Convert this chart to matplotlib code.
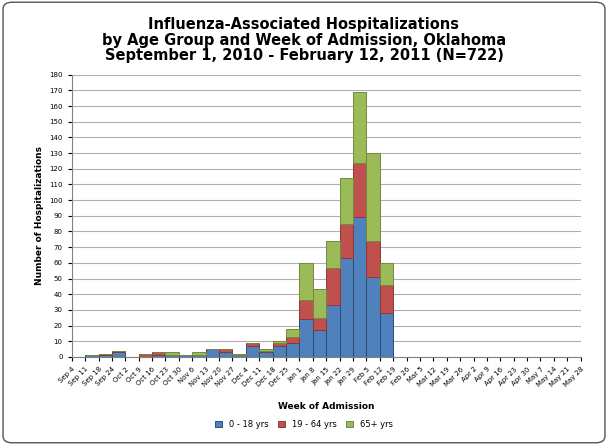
import matplotlib
matplotlib.use("Agg")
import matplotlib.pyplot as plt
import numpy as np
from matplotlib.patches import FancyBboxPatch

weeks = ["Sep 4", "Sep 11", "Sep 18", "Sep 24", "Oct 2", "Oct 9", "Oct 16", "Oct 23", "Oct 30",
         "Nov 6", "Nov 13", "Nov 20", "Nov 27", "Dec 4", "Dec 11", "Dec 18", "Dec 25",
         "Jan 1", "Jan 8", "Jan 15", "Jan 22", "Jan 29", "Feb 5", "Feb 12", "Feb 19", "Feb 26",
         "Mar 5", "Mar 12", "Mar 19", "Mar 26", "Apr 2", "Apr 9", "Apr 16", "Apr 23", "Apr 30",
         "May 7", "May 14", "May 21", "May 28"]

# counts per week slot (slot k spans tick k to k+1)
kids   = [0, 1, 1, 3, 0, 0, 1, 1, 1, 1, 5, 3, 1, 7, 3, 7, 9, 24, 17, 33, 63, 89, 51, 28]
adults = [0, 0, 1, 1, 0, 2, 2, 0, 0, 0, 0, 2, 0, 2, 1, 2, 4, 12, 8, 24, 22, 35, 23, 18]
senior = [0, 0, 0, 0, 0, 0, 0, 2, 0, 2, 0, 0, 1, 0, 1, 1, 5, 24, 18, 17, 29, 45, 56, 14]

kids, adults, senior = map(np.array, (kids, adults, senior))
x = np.arange(len(kids)) + 0.5

fig = plt.figure(figsize=(6.08, 4.45), dpi=100)
fig.patches.append(FancyBboxPatch((0.005, 0.005), 0.99, 0.99, boxstyle="round,pad=0,rounding_size=0.015",
                                  transform=fig.transFigure, fill=False, ec="#555555", lw=1))
ax = fig.add_axes([0.118, 0.198, 0.837, 0.634])

ax.bar(x, kids, width=1.0, color="#4f81bd", edgecolor="#2c4d75", lw=0.7, label="0 - 18 yrs")
ax.bar(x, adults, bottom=kids, width=1.0, color="#c0504d", edgecolor="#8c3836", lw=0.7,
       label="19 - 64 yrs")
ax.bar(x, senior, bottom=kids + adults, width=1.0, color="#9bbb59", edgecolor="#71893f", lw=0.7,
       label="65+ yrs")

ax.set_xlim(0, len(weeks) - 1)
ax.set_ylim(0, 180)
ax.set_yticks(range(0, 181, 10))
ax.yaxis.grid(True, color="#b0b0b0", lw=0.8)
ax.set_axisbelow(True)
ax.set_xticks(range(len(weeks)))
ax.set_xticklabels(weeks, rotation=45, ha="right", rotation_mode="anchor", fontsize=5)
ax.tick_params(axis="y", labelsize=5, length=3)
ax.tick_params(axis="x", length=3)
for s in ["top", "right"]:
    ax.spines[s].set_visible(False)
ax.spines["left"].set_color("#808080")
ax.spines["bottom"].set_color("#808080")

ax.set_ylabel("Number of Hospitalizations", fontsize=6.5, fontweight="bold")
ax.set_xlabel("Week of Admission", fontsize=6.5, fontweight="bold", labelpad=10)
fig.text(0.5, 0.91, "Influenza-Associated Hospitalizations\nby Age Group and Week of Admission, Oklahoma\n"
         "September 1, 2010 - February 12, 2011 (N=722)",
         ha="center", va="center", fontsize=10.5, fontweight="bold", linespacing=1.05)
fig.legend(loc="lower center", bbox_to_anchor=(0.5, 0.02), ncol=3, frameon=False, fontsize=6,
           handlelength=0.8, handleheight=0.8, columnspacing=1.2)

fig.savefig("out.png", dpi=100)
